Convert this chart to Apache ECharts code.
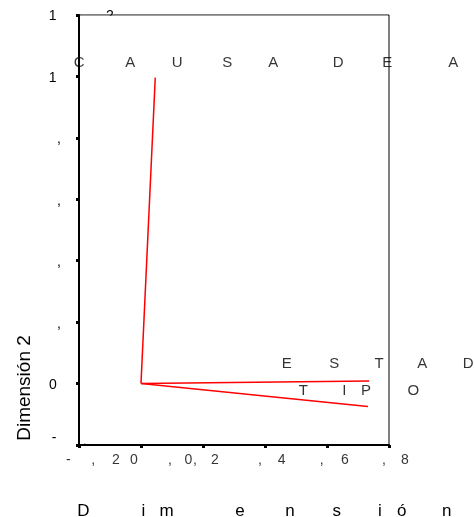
<!DOCTYPE html>
<html><head><meta charset="utf-8">
<script src="https://cdn.jsdelivr.net/npm/echarts@6/dist/echarts.min.js"></script>
<style>html,body{margin:0;padding:0;background:#fff}#c{width:474px;height:517px}</style>
</head><body><div id="c"></div>
<script>
// ---------- DATA ----------
const seriesNames = ['CAUSA DE ALTA', 'ESTADO', 'TIPO'];
const startX = [0, 0, 0];
const startY = [0, 0, 0];
const endX = [0.046, 0.736, 0.732];
const endY = [0.996, 0.008, -0.075];
const xTicks = [-0.2, 0, 0.2, 0.4, 0.6, 0.8];
const xTickLabels = ['-,2', '0,0', ',2', ',4', ',6', ',8'];
const yTicks = [-0.2, 0, 0.2, 0.4, 0.6, 0.8, 1.0, 1.2];
const yTickLabels = ['-,2', '0,0', ',2', ',4', ',6', ',8', '1,0', '1,2'];
const xAxisTitle = 'Dimensión 1';
const yAxisTitle = 'Dimensión 2';

// ---------- LAYOUT (character centres relative to their anchor, px) ----------
const xLabelOffsets = [[-10.7, 14.3, 37], [-7, 29, 47.3], [-8, 12], [-5, 16.7], [-5.3, 18], [-5, 16]];
const xLabelDy = 15;
const yLabelOffsets = [[-25, 6, 31], [-26, 6, 31], [-20, 31], [-20, 31], [-20, 31], [-20, 31], [-26.3, 6, 31], [-26.3, 6, 31]];
const yLabelStyle = ['u', 'd', 'd', 'd', 'd', 'd', 'd', 'd'];
const seriesLabelOffsets = [
  [-76, -25, 22, 72, 118, 183, 232, 298, 346, 394, 442],
  [-82.3, -35, 10, 53, 99, 145],
  [-64.7, -23.7, -2, 45.3]
];
const seriesLabelDy = [-15, -17, -15.7];
const xTitleOffsets = [-150.7, -90.7, -67.3, 6, 56, 102.7, 146, 167.7, 212.7, 266];

const FONT = '"Liberation Sans", Arial, sans-serif';

function spacedBuilder(fontSize, lineHeight) {
  const base = {fontSize: fontSize, lineHeight: lineHeight, fontFamily: FONT, color: '#000'};
  const rich = {
    c: Object.assign({}, base, {width: 2, align: 'center'}),
    d: Object.assign({}, base, {width: 2, align: 'center', padding: [3, 0, 0, 0]}),
    u: Object.assign({}, base, {width: 2, align: 'center', padding: [0, 0, 14, 0]})
  };
  function gap(w) {
    if (w <= 0.05) return '';
    const key = 's' + Math.round(w * 10);
    if (!rich[key]) rich[key] = Object.assign({}, base, {width: Math.round(w * 10) / 10, align: 'center'});
    return '{' + key + '| }';
  }
  function build(text, offsets, R, styleName) {
    styleName = styleName || 'c';
    let out = '', pos = -R, k = 0;
    for (const ch of text) {
      if (ch === ' ') continue;
      const left = offsets[k++] - 1;
      out += gap(left - pos) + '{' + styleName + '|' + ch + '}';
      pos = left + 2;
    }
    return out + gap(R - pos);
  }
  return {rich: rich, build: build};
}

const xb = spacedBuilder(14, 16);
const yb = spacedBuilder(14, 16);
const sb = spacedBuilder(15, 17);
const tb = spacedBuilder(17, 19);

const xLabelTexts = xTickLabels.map((t, i) => xb.build(t, xLabelOffsets[i], 55));
const yLabelTexts = yTickLabels.map((t, i) => yb.build(t, yLabelOffsets[i], 40, yLabelStyle[i]));
const seriesLabelTexts = seriesNames.map((t, i) => sb.build(t, seriesLabelOffsets[i], 460));
const xTitleText = tb.build(xAxisTitle, xTitleOffsets, 280);

function idx(arr, v) {
  for (let i = 0; i < arr.length; i++) if (Math.abs(arr[i] - v) < 1e-9) return i;
  return -1;
}

const X_MIN = -0.2, X_MAX = 0.8, Y_MIN = -0.2, Y_MAX = 1.2, STEP = 0.2;

const chart = echarts.init(document.getElementById('c'), null, {renderer: 'canvas'});

const lineSeries = seriesNames.map((n, i) => ({
  type: 'line',
  name: n,
  data: [[startX[i], startY[i]], [endX[i], endY[i]]],
  showSymbol: false,
  symbol: 'none',
  lineStyle: {color: '#ff0000', width: 1.5},
  z: 3,
  animation: false
}));

const labelSeries = {
  type: 'scatter',
  symbol: 'circle',
  symbolSize: 1,
  itemStyle: {color: 'transparent'},
  z: 4,
  animation: false,
  silent: true,
  label: {
    show: true,
    position: 'inside',
    align: 'center',
    verticalAlign: 'middle',
    rich: sb.rich
  },
  data: seriesNames.map((n, i) => ({
    name: n,
    value: [endX[i], endY[i]],
    label: {formatter: seriesLabelTexts[i], offset: [0, seriesLabelDy[i]]}
  }))
};

// x tick labels, placed at the tick values on the bottom edge through the axis scale
const xTickLabelSeries = {
  type: 'scatter',
  symbol: 'circle',
  symbolSize: 1,
  itemStyle: {color: 'transparent'},
  z: 4,
  animation: false,
  silent: true,
  clip: false,
  label: {
    show: true,
    position: 'inside',
    align: 'center',
    verticalAlign: 'middle',
    offset: [0, xLabelDy],
    rich: xb.rich
  },
  data: xTicks.map((v, i) => ({
    value: [v, Y_MIN],
    label: {formatter: xLabelTexts[i]}
  }))
};

const option = {
  animation: false,
  backgroundColor: '#fff',
  grid: {
    left: 79, right: 85, top: 15, bottom: 72,
    show: true, borderColor: '#000', borderWidth: 1, backgroundColor: 'transparent',
    containLabel: false, outerBoundsMode: 'none'
  },
  xAxis: {
    type: 'value', min: X_MIN, max: X_MAX, interval: STEP,
    splitLine: {show: false},
    axisLine: {onZero: false, lineStyle: {color: '#000', width: 2}},
    axisTick: {show: true, length: 3, lineStyle: {color: '#000', width: 3}},
    axisLabel: {show: false},
    name: xTitleText,
    nameLocation: 'middle',
    nameGap: 57,
    nameTextStyle: {rich: tb.rich, align: 'center'}
  },
  yAxis: {
    type: 'value', min: Y_MIN, max: Y_MAX, interval: STEP,
    splitLine: {show: false},
    axisLine: {onZero: false, lineStyle: {color: '#000', width: 2}},
    axisTick: {show: true, length: 3, lineStyle: {color: '#000', width: 3}},
    axisLabel: {
      margin: 0, align: 'center', hideOverlap: false,
      showMinLabel: true, showMaxLabel: true,
      formatter: v => { const i = idx(yTicks, v); return i < 0 ? '' : yLabelTexts[i]; },
      rich: yb.rich
    }
  },
  series: lineSeries.concat([labelSeries, xTickLabelSeries])
};

chart.setOption(option);

// cover labels that run into the plot area (as in the original), and add the vertical title
const rect = chart.getModel().getComponent('grid').coordinateSystem.getRect();
chart.setOption({
  graphic: [
    {
      type: 'rect', z: 1, silent: true,
      shape: {x: rect.x + 1.5, y: rect.y + 0.8, width: rect.width - 2.5, height: rect.height - 2.3},
      style: {fill: '#fff'}
    },
    {
      type: 'text', z: 1, silent: true,
      x: rect.x - 54, y: rect.y + rect.height - 57, rotation: Math.PI / 2,
      style: {text: yAxisTitle, font: '19px ' + FONT, fill: '#000', align: 'center', verticalAlign: 'middle'}
    }
  ]
});
</script>
</body></html>
